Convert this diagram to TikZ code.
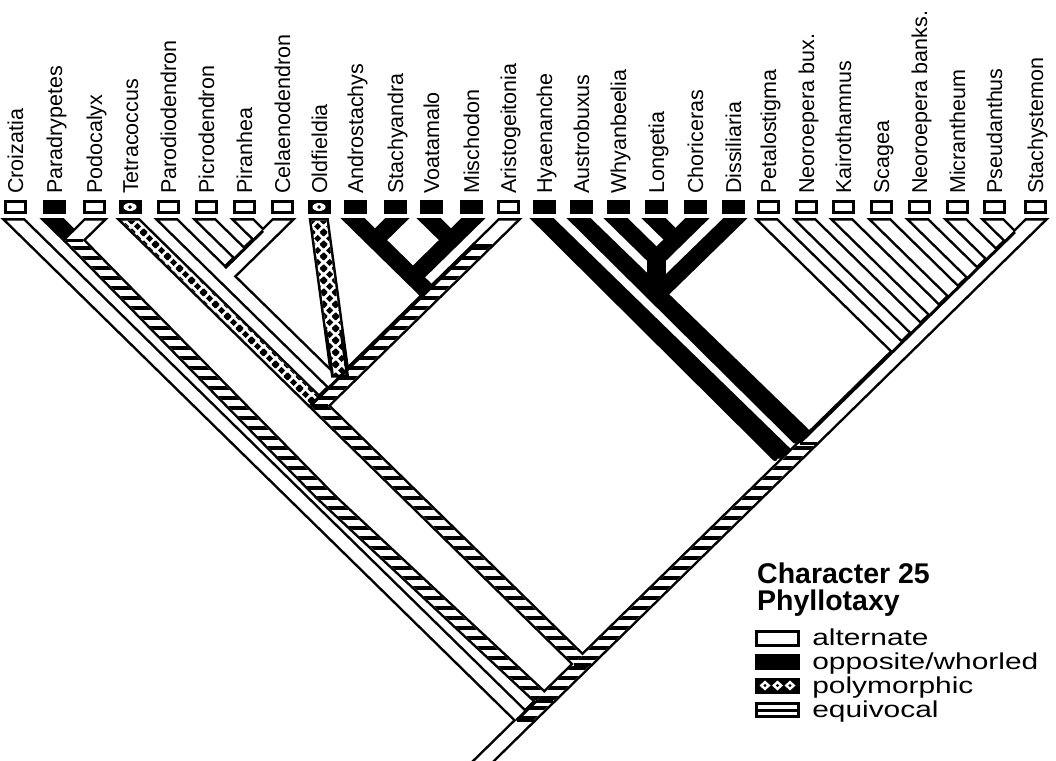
\documentclass[tikz,border=0pt]{standalone}
\usepackage{fontspec}
\setmainfont{Liberation Sans}
\usetikzlibrary{patterns}
\pgfdeclarepatternformonly{hstripes}{\pgfqpoint{-1pt}{-1pt}}{\pgfqpoint{11pt}{11pt}}{\pgfqpoint{10pt}{10pt}}{%
  \pgfpathrectangle{\pgfqpoint{-1pt}{0pt}}{\pgfqpoint{12pt}{3.8pt}}\pgfusepath{fill}}
\pgfdeclarepatternformonly{polydots}{\pgfqpoint{0pt}{0pt}}{\pgfqpoint{12pt}{12pt}}{\pgfqpoint{12pt}{12pt}}{%
  \pgfpathmoveto{\pgfqpoint{6pt}{2.2pt}}\pgfpathlineto{\pgfqpoint{9.8pt}{6pt}}\pgfpathlineto{\pgfqpoint{6pt}{9.8pt}}\pgfpathlineto{\pgfqpoint{2.2pt}{6pt}}\pgfpathclose
  \pgfpathmoveto{\pgfqpoint{0pt}{-3.8pt}}\pgfpathlineto{\pgfqpoint{3.8pt}{0pt}}\pgfpathlineto{\pgfqpoint{0pt}{3.8pt}}\pgfpathlineto{\pgfqpoint{-3.8pt}{0pt}}\pgfpathclose
  \pgfpathmoveto{\pgfqpoint{12pt}{-3.8pt}}\pgfpathlineto{\pgfqpoint{15.8pt}{0pt}}\pgfpathlineto{\pgfqpoint{12pt}{3.8pt}}\pgfpathlineto{\pgfqpoint{8.2pt}{0pt}}\pgfpathclose
  \pgfpathmoveto{\pgfqpoint{0pt}{8.2pt}}\pgfpathlineto{\pgfqpoint{3.8pt}{12pt}}\pgfpathlineto{\pgfqpoint{0pt}{15.8pt}}\pgfpathlineto{\pgfqpoint{-3.8pt}{12pt}}\pgfpathclose
  \pgfpathmoveto{\pgfqpoint{12pt}{8.2pt}}\pgfpathlineto{\pgfqpoint{15.8pt}{12pt}}\pgfpathlineto{\pgfqpoint{12pt}{15.8pt}}\pgfpathlineto{\pgfqpoint{8.2pt}{12pt}}\pgfpathclose
  \pgfusepath{fill}}
% outlines
\newcommand\tipO[6]{\draw[outl] (#3-#6,#4) -- (#1-#5,#2) -- (#1+#5,#2) -- (#3+#6,#4);}
\newcommand\sideO[6]{\draw[outl] (#1-#5,#2) -- (#3-#6,#4); \draw[outl] (#1+#5,#2) -- (#3+#6,#4);}
% fills
\newcommand\bW[6]{\fill[white] (#1-#5,#2) -- (#1+#5,#2) -- (#3+#6,#4) -- (#3-#6,#4) -- cycle;}
\newcommand\bB[6]{\fill[black] (#1-#5,#2) -- (#1+#5,#2) -- (#3+#6,#4) -- (#3-#6,#4) -- cycle;}
\newcommand\bH[6]{\fill[white] (#1-#5,#2) -- (#1+#5,#2) -- (#3+#6,#4) -- (#3-#6,#4) -- cycle;
  \fill[pattern=hstripes,pattern color=black] (#1-#5,#2) -- (#1+#5,#2) -- (#3+#6,#4) -- (#3-#6,#4) -- cycle;}
\newcommand\bP[6]{\fill[white] (#1-#5,#2) -- (#1+#5,#2) -- (#3+#6,#4) -- (#3-#6,#4) -- cycle;
  \fill[pattern=polydots,pattern color=black] (#1-#5,#2) -- (#1+#5,#2) -- (#3+#6,#4) -- (#3-#6,#4) -- cycle;}
% tip boxes
\newcommand\boxW[1]{\draw[line width=3pt] (#1-10,201.5) rectangle (#1+10,212.5);}
\newcommand\boxB[1]{\fill[black] (#1-11.5,200) rectangle (#1+11.5,214);}
\newcommand\boxP[1]{\fill[black] (#1-11.5,200) rectangle (#1+11.5,214);
  \fill[white] (#1,207) ellipse [x radius=6.5, y radius=4];
  \fill[black] (#1,205) -- (#1+2,207) -- (#1,209) -- (#1-2,207) -- cycle;}
\begin{document}
\begin{tikzpicture}[x=1pt,y=-1pt,
  outl/.style={line width=5pt, line cap=round, line join=miter, miter limit=4},
  sep/.style={line width=3pt, line cap=butt},
  lbl/.style={rotate=90, anchor=base west, inner sep=0pt, font=\fontsize{21.5}{24}\selectfont},
  legt/.style={anchor=base west, inner sep=0pt, font=\bfseries\fontsize{28.5}{30}\selectfont},
  lege/.style={anchor=base west, inner sep=0pt, xscale=1.3, font=\fontsize{23}{24}\selectfont}]
\useasboundingbox (0,0) rectangle (1056,760);
\fill[white] (0,0) rectangle (1056,760);
\begin{scope}
\clip (0,0) rectangle (1056,760);
% ---------- pass 1 : outlines ----------
\tipO{15}{220.5}{525}{720.3}{8.5}{8.5}
\sideO{525}{720.3}{468}{776.2}{8.5}{8.5}
\tipO{54}{220.5}{74}{240.1}{8.5}{8.5}
\tipO{94}{220.5}{74}{240.1}{8.5}{8.5}
\sideO{74}{240.1}{326}{497}{8.5}{8.5}
\sideO{326}{497}{544.5}{701.2}{8.5}{8.5}
\tipO{130}{220.5}{319}{405.7}{8.5}{8.5}
\tipO{168}{220.5}{338}{387.1}{8.5}{8.5}
\tipO{206}{220.5}{244}{257.7}{8.5}{8.5}
\tipO{244}{220.5}{263}{239.1}{8.5}{8.5}
\tipO{282}{220.5}{225}{276.4}{8.5}{8.5}
\tipO{319}{220.5}{340}{376}{7.5}{7.5}
\tipO{355}{220.5}{431.5}{295.5}{8.5}{8.5}
\tipO{395}{220.5}{375}{240.1}{8.5}{8.5}
\tipO{431}{220.5}{451}{240.1}{8.5}{8.5}
\tipO{471}{220.5}{413}{277.3}{8.5}{8.5}
\tipO{508}{220.5}{483}{245}{8.5}{8.5}
\sideO{483}{245}{319}{405.7}{8.5}{8.5}
\sideO{319}{405.7}{582.5}{664}{8.5}{8.5}
\tipO{544}{220.5}{786}{458.5}{8.5}{11}
\tipO{581}{220.5}{806}{441}{8.5}{11}
\tipO{618}{220.5}{656.5}{258.2}{8.5}{8.5}
\tipO{656}{220.5}{675.5}{239.6}{8.5}{8.5}
\tipO{695}{220.5}{656.5}{258.2}{8.5}{8.5}
\sideO{656.5}{258.2}{656.5}{295}{7}{7}
\tipO{733}{220.5}{656.5}{295}{8.5}{8.5}
\tipO{768}{220.5}{901.5}{351.3}{8.5}{8.5}
\tipO{806}{220.5}{920.5}{332.7}{8.5}{8.5}
\tipO{843}{220.5}{939}{314.6}{8.5}{8.5}
\tipO{881}{220.5}{958}{296}{8.5}{8.5}
\tipO{919}{220.5}{977}{277.3}{8.5}{8.5}
\tipO{957}{220.5}{996}{258.7}{8.5}{8.5}
\tipO{994}{220.5}{1014.5}{240.6}{8.5}{8.5}
\tipO{1035}{220.5}{808}{443}{8.5}{8.5}
\sideO{808}{443}{525}{720.3}{8.5}{8.5}
% ---------- pass 2 : fills ----------
\bW{15}{220.5}{525}{720.3}{8.5}{8.5}
\bW{525}{720.3}{468}{776.2}{8.5}{8.5}
\bB{54}{220.5}{74}{240.1}{8.5}{8.5}
\bW{94}{220.5}{74}{240.1}{8.5}{8.5}
\bH{74}{240.1}{326}{497}{8.5}{8.5}
\bH{326}{497}{544.5}{701.2}{8.5}{8.5}
\bP{130}{220.5}{319}{405.7}{8.5}{8.5}
\bW{168}{220.5}{338}{387.1}{8.5}{8.5}
\bW{206}{220.5}{244}{257.7}{8.5}{8.5}
\bW{244}{220.5}{263}{239.1}{8.5}{8.5}
\bW{282}{220.5}{225}{276.4}{8.5}{8.5}
\bB{355}{220.5}{431.5}{295.5}{8.5}{8.5}
\bB{395}{220.5}{375}{240.1}{8.5}{8.5}
\bB{431}{220.5}{451}{240.1}{8.5}{8.5}
\bB{471}{220.5}{413}{277.3}{8.5}{8.5}
\bW{508}{220.5}{483}{245}{8.5}{8.5}
\bH{483}{245}{319}{405.7}{8.5}{8.5}
\bP{319}{220.5}{340}{376}{7.5}{7.5}
\bH{319}{405.7}{582.5}{664}{8.5}{8.5}
\bB{544}{220.5}{786}{458.5}{8.5}{11}
\bB{581}{220.5}{806}{441}{8.5}{11}
\bB{618}{220.5}{656.5}{258.2}{8.5}{8.5}
\bB{656}{220.5}{675.5}{239.6}{8.5}{8.5}
\bB{695}{220.5}{656.5}{258.2}{8.5}{8.5}
\bB{656.5}{258.2}{656.5}{295}{7}{7}
\bB{733}{220.5}{656.5}{295}{8.5}{8.5}
\bW{768}{220.5}{901.5}{351.3}{8.5}{8.5}
\bW{806}{220.5}{920.5}{332.7}{8.5}{8.5}
\bW{843}{220.5}{939}{314.6}{8.5}{8.5}
\bW{881}{220.5}{958}{296}{8.5}{8.5}
\bW{919}{220.5}{977}{277.3}{8.5}{8.5}
\bW{957}{220.5}{996}{258.7}{8.5}{8.5}
\bW{994}{220.5}{1014.5}{240.6}{8.5}{8.5}
\bW{1035}{220.5}{808}{443}{8.5}{8.5}
\bH{808}{443}{525}{720.3}{8.5}{8.5}
% ---------- pass 3 : separators ----------
\draw[sep] (65.5,240.1) -- (82.5,240.1);
\draw[sep] (474.5,245) -- (491.5,245);
\draw[sep] (474.5,245) -- (310.5,405.7);
\draw[sep] (325.8,330) -- (332.5,376) -- (347.5,376) -- (340.8,330);
\draw[sep] (310.5,405.7) -- (327.5,405.7);
\draw[sep] (263,230.8) -- (225,268);
\draw[sep] (1014.8,232) -- (799.5,443);
\draw[sep] (799.5,443) -- (816.5,443);
\draw[sep] (574,664) -- (591,664);
\draw[sep] (536,701.2) -- (553,701.2);
\draw[sep] (536,701.2) -- (516.5,720.3);
\draw[sep] (516.5,720.3) -- (533.5,720.3);
\end{scope}
% ---------- tip boxes ----------
\boxW{15}\boxB{54}\boxW{94}\boxP{130}\boxW{168}\boxW{206}\boxW{244}\boxW{282}
\boxP{319}\boxB{355}\boxB{395}\boxB{431}\boxB{471}\boxW{508}
\boxB{544}\boxB{581}\boxB{618}\boxB{656}\boxB{695}\boxB{733}
\boxW{768}\boxW{806}\boxW{843}\boxW{881}\boxW{919}\boxW{957}\boxW{994}\boxW{1035}
% ---------- labels ----------
\node[lbl] (t0) at (23,194) {Croizatia};
\node[lbl] (t1) at (62,194) {Paradrypetes};
\node[lbl] (t2) at (102,194) {Podocalyx};
\node[lbl] (t3) at (138,194) {Tetracoccus};
\node[lbl] (t4) at (176,194) {Parodiodendron};
\node[lbl] (t5) at (214,194) {Picrodendron};
\node[lbl] (t6) at (252,194) {Piranhea};
\node[lbl] (t7) at (290,194) {Celaenodendron};
\node[lbl] (t8) at (327,194) {Oldfieldia};
\node[lbl] (t9) at (363,194) {Androstachys};
\node[lbl] (t10) at (403,194) {Stachyandra};
\node[lbl] (t11) at (439,194) {Voatamalo};
\node[lbl] (t12) at (479,194) {Mischodon};
\node[lbl] (t13) at (516,194) {Aristogeitonia};
\node[lbl] (t14) at (552,194) {Hyaenanche};
\node[lbl] (t15) at (589,194) {Austrobuxus};
\node[lbl] (t16) at (626,194) {Whyanbeelia};
\node[lbl] (t17) at (664,194) {Longetia};
\node[lbl] (t18) at (703,194) {Choriceras};
\node[lbl] (t19) at (741,194) {Dissiliaria};
\node[lbl] (t20) at (776,194) {Petalostigma};
\node[lbl] (t21) at (814,194) {Neoroepera bux.};
\node[lbl] (t22) at (851,194) {Kairothamnus};
\node[lbl] (t23) at (889,194) {Scagea};
\node[lbl] (t24) at (927,194) {Neoroepera banks.};
\node[lbl] (t25) at (965,194) {Micrantheum};
\node[lbl] (t26) at (1002,194) {Pseudanthus};
\node[lbl] (t27) at (1043,194) {Stachystemon};
% ---------- legend ----------
\node[legt] (lg1) at (757,583) {Character 25};
\node[legt] (lg2) at (757,610) {Phyllotaxy};
\draw[line width=3pt] (756.5,631.5) rectangle (798.5,645.5);
\node[lege] (le1) at (812,645) {alternate};
\fill[black] (755,653.5) rectangle (800,670);
\node[lege] (le2) at (812,669) {opposite/whorled};
\fill[black] (755,677.5) rectangle (800,693.5);
\foreach \cx in {765,777.5,790}{
  \fill[white] (\cx,680.5) -- (\cx+5.5,685.5) -- (\cx,690.5) -- (\cx-5.5,685.5) -- cycle;
  \fill[black] (\cx,684) -- (\cx+1.6,685.5) -- (\cx,687) -- (\cx-1.6,685.5) -- cycle;}
\node[lege] (le3) at (812,693) {polymorphic};
\draw[line width=3pt] (756.5,703.5) rectangle (798.5,716.5);
\draw[line width=3pt] (756.5,710) -- (798.5,710);
\node[lege] (le4) at (812,717) {equivocal};
\end{tikzpicture}
\end{document}
